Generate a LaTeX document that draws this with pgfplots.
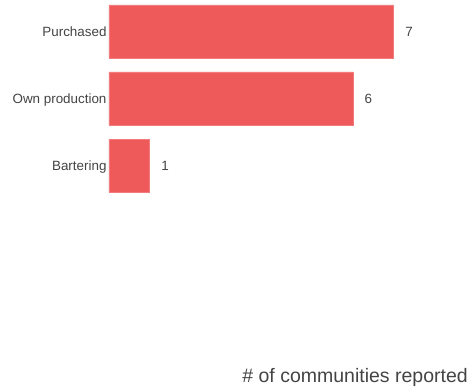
\documentclass[border=0pt]{standalone}
\usepackage{pgfplots}
\pgfplotsset{compat=1.18}
\usepackage{fontspec}
\setmainfont{Liberation Sans}
\definecolor{barred}{HTML}{EE5A5A}
\definecolor{barline}{HTML}{F27C7C}
\definecolor{txt}{HTML}{444444}
\begin{document}
\begin{tikzpicture}[x=1pt,y=1pt]
\path[use as bounding box] (0,0) rectangle (475,390);
\begin{axis}[
  at={(109pt,50pt)}, anchor=south west,
  scale only axis, width=366pt, height=340pt,
  xbar, bar width=53pt,
  xmin=0, xmax=9,
  ymin=-0.47, ymax=4.604, y dir=reverse,
  ytick={0,1,2}, yticklabels={Purchased,Own production,Bartering},
  xtick=\empty,
  axis line style={draw=none},
  major tick length=0pt,
  /pgf/number format/assume math mode=true,
  yticklabel style={font=\fontsize{13.4}{16}\selectfont, text=txt, xshift=1pt, text height=12pt, text depth=2.4pt},
  nodes near coords,
  nodes near coords style={font=\fontsize{13.4}{16}\selectfont, text=txt, anchor=west, xshift=8pt, text height=12pt, text depth=2.4pt},
  xlabel={\# of communities reported},
  xlabel style={at={(axis description cs:1,0)}, anchor=base east, xshift=-7pt, yshift=-43pt, font=\fontsize{19.5}{22}\selectfont, text=txt, inner sep=0pt},
]
\addplot[fill=barred, draw=barline, line width=0.6pt] coordinates {(7,0) (6,1) (1,2)};
\end{axis}
\end{tikzpicture}
\end{document}
